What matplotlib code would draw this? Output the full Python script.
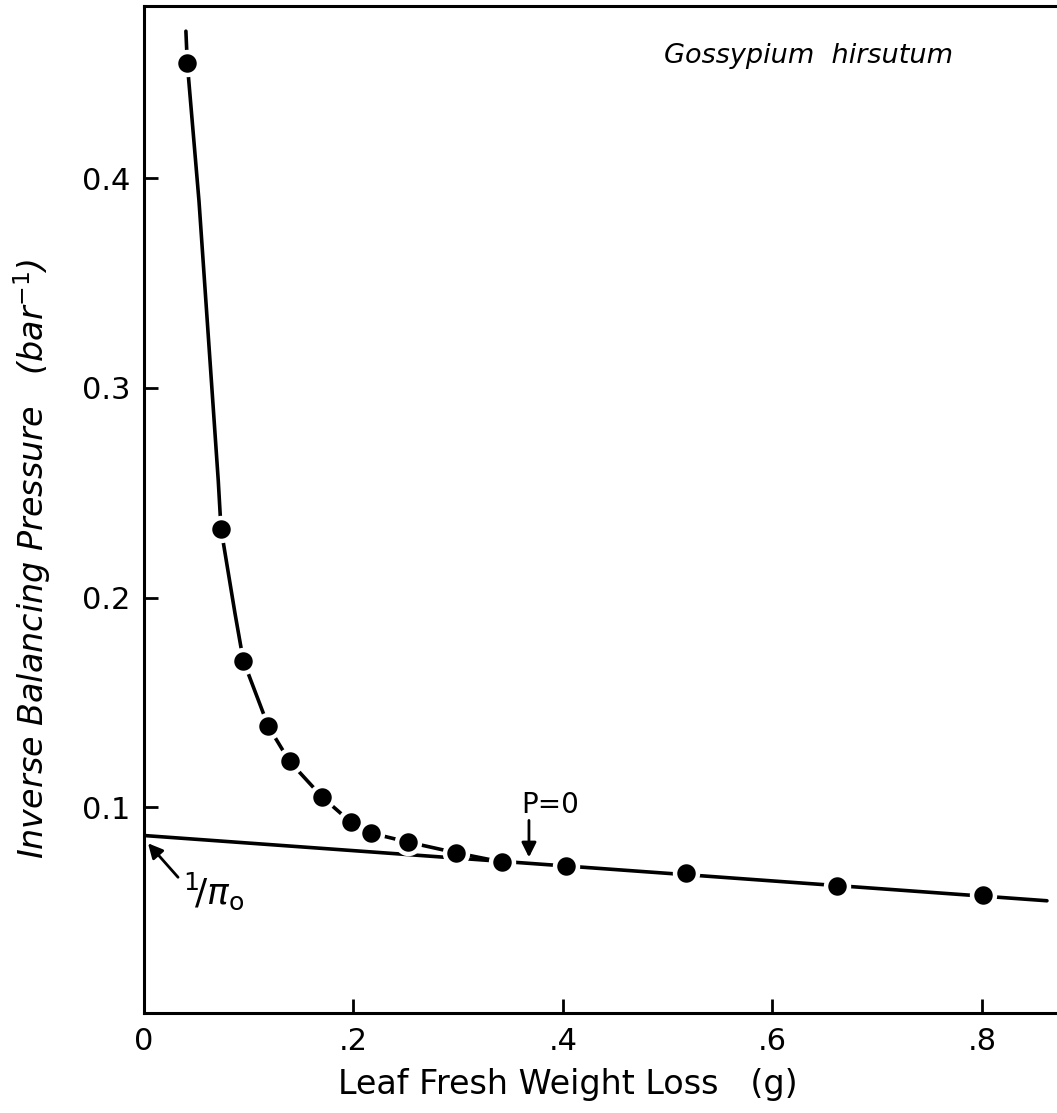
import numpy as np
import matplotlib.pyplot as plt

# measured points (leaf fresh weight loss in g, inverse balancing pressure in 1/bar)
loss_g = [0.0413, 0.0735, 0.0948, 0.1187, 0.139, 0.1702, 0.1976, 0.2164,
          0.2517, 0.2976, 0.3415, 0.4029, 0.5171, 0.6613, 0.8007]
inv_p = [0.4549, 0.2329, 0.170, 0.1386, 0.1219, 0.1049, 0.0929, 0.0878,
         0.0835, 0.0784, 0.0740, 0.0720, 0.0689, 0.0625, 0.0581]

# hand-drawn curve (traced, not the data)
curve_x = [0.040, 0.0413, 0.0525, 0.0709, 0.0735, 0.0869, 0.0948, 0.1187,
           0.139, 0.1702, 0.1976, 0.2164, 0.2517, 0.2976, 0.3415]
curve_y = [0.470, 0.4549, 0.389, 0.2557, 0.2329, 0.1924, 0.170, 0.1386,
           0.1219, 0.1049, 0.0929, 0.0878, 0.0835, 0.0784, 0.0740]

# straight line extrapolated to zero weight loss
line_x = [0.0, 0.862]
line_y = [0.0866, 0.0555]

x_ticks = [0, 0.2, 0.4, 0.6, 0.8]
x_tick_labels = ['0', '.2', '.4', '.6', '.8']
y_ticks = [0.1, 0.2, 0.3, 0.4]
y_tick_labels = ['0.1', '0.2', '0.3', '0.4']

plt.rcParams['font.family'] = ['DejaVu Sans']

fig = plt.figure(figsize=(10.57, 11.13), dpi=100)
ax = fig.add_axes([144 / 1057, 100 / 1113, 913 / 1057, 1007 / 1113])

ax.plot(curve_x, curve_y, color='black', lw=2.6, solid_capstyle='round',
        solid_joinstyle='round', zorder=2)
ax.plot(line_x, line_y, color='black', lw=2.6, solid_capstyle='round', zorder=2)

# points with a white ring to break the line around them
ax.plot(loss_g, inv_p, 'o', color='black', markersize=16.5,
        markeredgecolor='white', markeredgewidth=3.2, zorder=3)

ax.set_xlim(0, 0.8716)
ax.set_ylim(0.002, 0.482)
ax.set_xticks(x_ticks)
ax.set_xticklabels(x_tick_labels)
ax.set_yticks(y_ticks)
ax.set_yticklabels(y_tick_labels)
ax.tick_params(direction='in', length=10, width=2, labelsize=22, pad=10)

for s in ['left', 'bottom', 'top']:
    ax.spines[s].set_linewidth(2.2)
ax.spines['right'].set_visible(False)

ax.set_xlabel('Leaf Fresh Weight Loss   (g)', fontsize=24)
ax.xaxis.set_label_coords(0.464, -0.055)
ax.set_ylabel(r'Inverse Balancing Pressure   (bar$^{-1}$)', fontsize=24,
              style='italic')
ax.yaxis.set_label_coords(-0.100, 0.451)

ax.text(0.772, 0.458, 'Gossypium  hirsutum', fontsize=19.5, style='italic',
        ha='right', va='center')

# P=0 marker
ax.text(0.3876, 0.101, 'P=0', fontsize=20, ha='center', va='center')
ax.annotate('', xy=(0.3675, 0.0762), xytext=(0.3675, 0.0938),
            arrowprops=dict(arrowstyle='-|>', color='black', lw=2,
                            shrinkA=0, shrinkB=0, mutation_scale=22))

# 1/pi_o intercept
ax.text(0.0668, 0.060, r'$^{1}\!/\pi_{\rm o}$', fontsize=26,
        ha='center', va='center')
ax.annotate('', xy=(0.0038, 0.0829), xytext=(0.0325, 0.0667),
            arrowprops=dict(arrowstyle='-|>', color='black', lw=2,
                            shrinkA=0, shrinkB=0, mutation_scale=22))

fig.savefig('out.png', dpi=100)
